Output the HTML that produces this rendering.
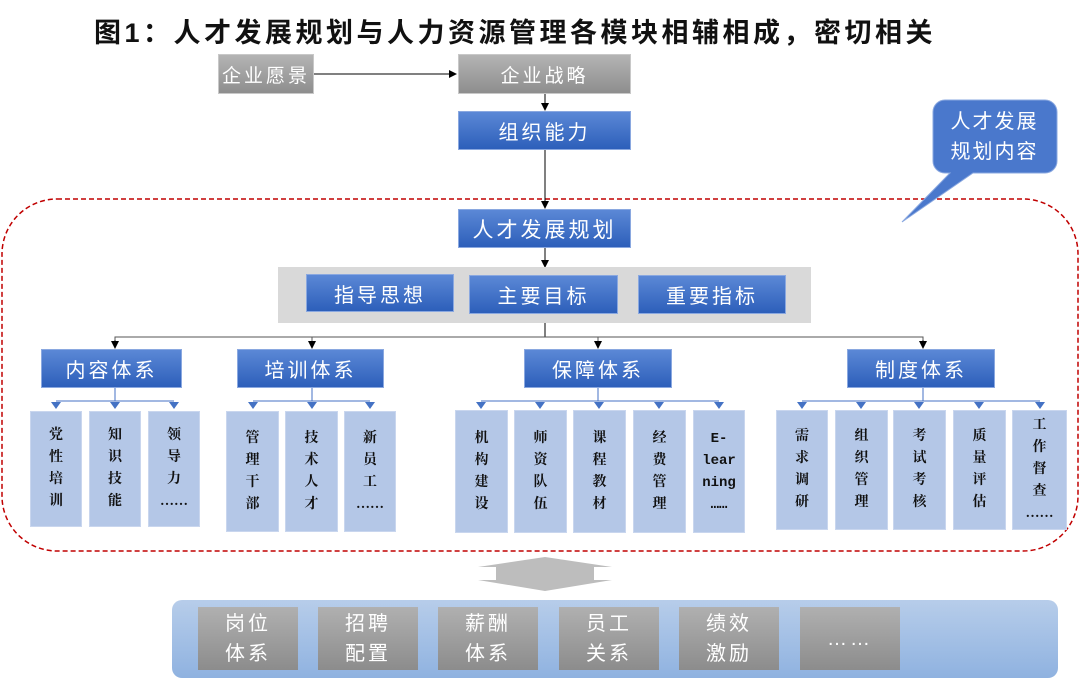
<!DOCTYPE html>
<html><head><meta charset="utf-8"><style>
body{margin:0;width:1080px;height:683px;position:relative;background:#fff;overflow:hidden;font-family:"Liberation Sans","Noto Sans CJK SC",sans-serif}
.a{position:absolute;box-sizing:border-box;display:flex;align-items:center;justify-content:center;text-align:center}
.g{background:linear-gradient(#b4b4b4,#8e8e8e);color:#fff;font-size:19px;letter-spacing:3px;border:1px solid #c8c8c8}
.b{background:linear-gradient(#5b88d6,#2d5fba);color:#fff;font-size:20px;letter-spacing:3px;border:1px solid #8aa8e0}
.s{background:#b4c7e7;color:#111;font-family:"Liberation Serif","Noto Serif CJK SC",serif;font-weight:bold;font-size:14px;line-height:22px;border:1px solid #c9d6ee}
.bg{background:linear-gradient(#b0b0b0,#8c8c8c);color:#fff;font-size:20px;line-height:30px;letter-spacing:3px}
svg{position:absolute;left:0;top:0}
</style></head><body>
<div class="a" style="left:60px;top:8px;width:910px;height:44px;font-size:27px;font-weight:bold;letter-spacing:3.5px;color:#111">图1：人才发展规划与人力资源管理各模块相辅相成，密切相关</div>
<svg width="1080" height="683">
<defs><marker id="k" markerWidth="8" markerHeight="8" refX="7" refY="4" orient="auto"><path d="M0,0L8,4L0,8z" fill="#000"/></marker>
<marker id="bl" markerWidth="8" markerHeight="8" refX="7" refY="4" orient="auto"><path d="M0,0L8,4L0,8z" fill="#4472c4"/></marker></defs>
<rect x="2" y="199" width="1076" height="352" rx="55" fill="none" stroke="#c00000" stroke-width="1.5" stroke-dasharray="5,3"/>
<line x1="314" y1="74" x2="456" y2="74" stroke="#000" marker-end="url(#k)"/>
<line x1="545" y1="94" x2="545" y2="110" stroke="#000" marker-end="url(#k)"/>
<line x1="545" y1="150" x2="545" y2="208" stroke="#000" marker-end="url(#k)"/>
<line x1="545" y1="248" x2="545" y2="267" stroke="#000" marker-end="url(#k)"/>
<line x1="545" y1="323" x2="545" y2="337" stroke="#000"/>
<polyline points="115,348 115,337 923,337 923,348" fill="none" stroke="#555"/>
<line x1="312" y1="337" x2="312" y2="348" stroke="#555" marker-end="url(#k)"/>
<line x1="598" y1="337" x2="598" y2="348" stroke="#555" marker-end="url(#k)"/>
<line x1="115" y1="340" x2="115" y2="348" stroke="#000" marker-end="url(#k)"/>
<line x1="923" y1="340" x2="923" y2="348" stroke="#000" marker-end="url(#k)"/>
<g stroke="#4472c4" fill="none">
<line x1="115" y1="388" x2="115" y2="401"/><polyline points="56,401 174,401"/>
<line x1="312" y1="388" x2="312" y2="401"/><polyline points="253,401 370,401"/>
<line x1="598" y1="388" x2="598" y2="401"/><polyline points="481,401 719,401"/>
<line x1="923" y1="388" x2="923" y2="401"/><polyline points="802,401 1040,401"/>
</g>
<g fill="#4472c4">
<path id="t" d="M-5,402h10l-5,7z" transform="translate(56,0)"/>
<path d="M-5,402h10l-5,7z" transform="translate(115,0)"/><path d="M-5,402h10l-5,7z" transform="translate(174,0)"/>
<path d="M-5,402h10l-5,7z" transform="translate(253,0)"/><path d="M-5,402h10l-5,7z" transform="translate(312,0)"/><path d="M-5,402h10l-5,7z" transform="translate(370,0)"/>
<path d="M-5,402h10l-5,7z" transform="translate(481,0)"/><path d="M-5,402h10l-5,7z" transform="translate(540,0)"/><path d="M-5,402h10l-5,7z" transform="translate(599,0)"/><path d="M-5,402h10l-5,7z" transform="translate(659,0)"/><path d="M-5,402h10l-5,7z" transform="translate(719,0)"/>
<path d="M-5,402h10l-5,7z" transform="translate(802,0)"/><path d="M-5,402h10l-5,7z" transform="translate(861,0)"/><path d="M-5,402h10l-5,7z" transform="translate(919,0)"/><path d="M-5,402h10l-5,7z" transform="translate(979,0)"/><path d="M-5,402h10l-5,7z" transform="translate(1040,0)"/>
</g>
<path d="M945,100h100a12,12 0 0 1 12,12v49a12,12 0 0 1 -12,12h-72l-71,49l48,-49h-5a12,12 0 0 1 -12,-12v-49a12,12 0 0 1 12,-12z" fill="#4a78cc" stroke="#8aa8e0"/>
<path d="M545,557l67,10h-18v13h18l-67,11l-67,-11h18v-13h-18z" fill="#bdbdbd"/>
<defs><linearGradient id="pb" x1="0" y1="0" x2="0" y2="1"><stop offset="0" stop-color="#b7cdea"/><stop offset="1" stop-color="#8fb2e0"/></linearGradient></defs>
<rect x="172" y="600" width="886" height="78" rx="10" fill="url(#pb)"/>
</svg>
<div class="a" style="left:937px;top:104px;width:115px;height:66px;color:#fff;font-size:20px;line-height:30px;letter-spacing:2px">人才发展<br>规划内容</div>
<div class="a g" style="left:218px;top:54px;width:96px;height:40px">企业愿景</div>
<div class="a g" style="left:458px;top:54px;width:173px;height:40px">企业战略</div>
<div class="a b" style="left:458px;top:111px;width:173px;height:39px">组织能力</div>
<div class="a b" style="left:458px;top:209px;width:173px;height:39px;font-size:21px">人才发展规划</div>
<div class="a" style="left:278px;top:267px;width:533px;height:56px;background:#d9d9d9"></div>
<div class="a b" style="left:306px;top:274px;width:148px;height:38px">指导思想</div>
<div class="a b" style="left:469px;top:275px;width:149px;height:39px">主要目标</div>
<div class="a b" style="left:638px;top:275px;width:148px;height:39px">重要指标</div>
<div class="a b" style="left:41px;top:349px;width:141px;height:39px">内容体系</div>
<div class="a b" style="left:237px;top:349px;width:147px;height:39px">培训体系</div>
<div class="a b" style="left:524px;top:349px;width:148px;height:39px">保障体系</div>
<div class="a b" style="left:847px;top:349px;width:148px;height:39px">制度体系</div>
<div class="a s" style="left:30px;top:411px;width:52px;height:116px">党<br>性<br>培<br>训</div>
<div class="a s" style="left:89px;top:411px;width:52px;height:116px">知<br>识<br>技<br>能</div>
<div class="a s" style="left:148px;top:411px;width:52px;height:116px">领<br>导<br>力<br>……</div>
<div class="a s" style="left:226px;top:411px;width:53px;height:121px">管<br>理<br>干<br>部</div>
<div class="a s" style="left:285px;top:411px;width:53px;height:121px">技<br>术<br>人<br>才</div>
<div class="a s" style="left:344px;top:411px;width:52px;height:121px">新<br>员<br>工<br>……</div>
<div class="a s" style="left:455px;top:410px;width:53px;height:123px">机<br>构<br>建<br>设</div>
<div class="a s" style="left:514px;top:410px;width:53px;height:123px">师<br>资<br>队<br>伍</div>
<div class="a s" style="left:573px;top:410px;width:53px;height:123px">课<br>程<br>教<br>材</div>
<div class="a s" style="left:633px;top:410px;width:53px;height:123px">经<br>费<br>管<br>理</div>
<div class="a s" style="left:693px;top:410px;width:52px;height:123px;font-family:'Liberation Mono',monospace">E-<br>lear<br>ning<br>……</div>
<div class="a s" style="left:776px;top:410px;width:52px;height:120px">需<br>求<br>调<br>研</div>
<div class="a s" style="left:835px;top:410px;width:53px;height:120px">组<br>织<br>管<br>理</div>
<div class="a s" style="left:893px;top:410px;width:53px;height:120px">考<br>试<br>考<br>核</div>
<div class="a s" style="left:953px;top:410px;width:53px;height:120px">质<br>量<br>评<br>估</div>
<div class="a s" style="left:1012px;top:410px;width:55px;height:120px">工<br>作<br>督<br>查<br>……</div>
<div class="a bg" style="left:198px;top:607px;width:100px;height:63px">岗位<br>体系</div>
<div class="a bg" style="left:318px;top:607px;width:100px;height:63px">招聘<br>配置</div>
<div class="a bg" style="left:438px;top:607px;width:100px;height:63px">薪酬<br>体系</div>
<div class="a bg" style="left:559px;top:607px;width:100px;height:63px">员工<br>关系</div>
<div class="a bg" style="left:679px;top:607px;width:100px;height:63px">绩效<br>激励</div>
<div class="a bg" style="left:800px;top:607px;width:100px;height:63px">……</div>
</body></html>
